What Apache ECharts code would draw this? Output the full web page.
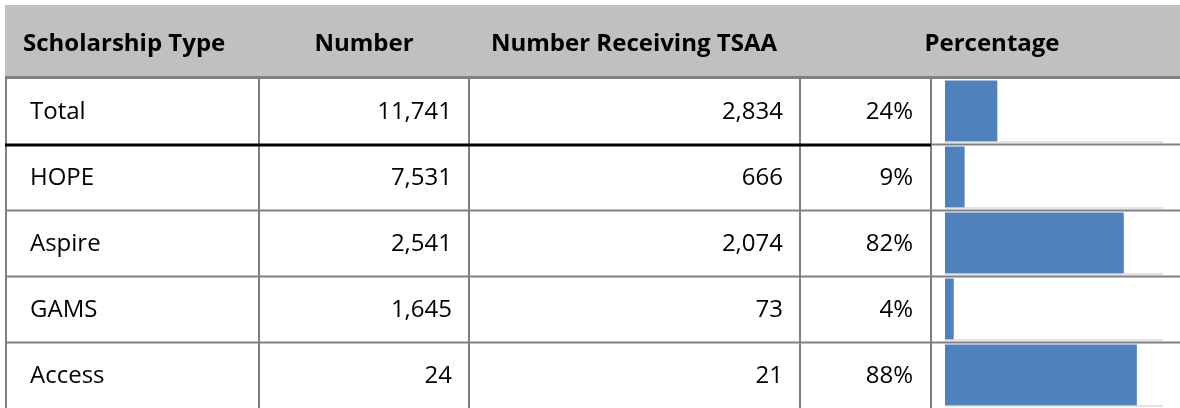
<!DOCTYPE html>
<html>
<head>
<meta charset="utf-8">
<script src="https://cdn.jsdelivr.net/npm/echarts@6/dist/echarts.min.js"></script>
<style>
  html, body { margin: 0; padding: 0; background: #fff; }
  #main { width: 1180px; height: 408px; }
</style>
</head>
<body>
<div id="main"></div>
<script>
// table data
const headers = ['Scholarship Type', 'Number', 'Number Receiving TSAA', 'Percentage']
const types = ['Total', 'HOPE', 'Aspire', 'GAMS', 'Access']
const numbers = [11741, 7531, 2541, 1645, 24]
const receiving = [2834, 666, 2074, 73, 21]
const percents = [24, 9, 82, 4, 88]

const FONT = '"Open Sans", "Noto Sans", sans-serif'
const BORDER = '#808080'
const ROW_H = 67

const chart = echarts.init(document.getElementById('main'), null, { renderer: 'canvas' })

chart.setOption({
  animation: false,
  grid: { left: 945, right: 17, top: 78, bottom: -5 },
  xAxis: { type: 'value', min: 0, max: 100, show: false },
  yAxis: { type: 'category', data: types, inverse: true, show: false },
  series: [
    {
      type: 'bar',
      data: percents,
      barWidth: 61,
      itemStyle: { color: '#4f81bd' },
      z: 3
    }
  ]
})

const fmt = v => v.toLocaleString('en-US')
const line = (x, y, w, h, color) => ({
  type: 'rect', shape: { x: x, y: y, width: w, height: h },
  style: { fill: color }, silent: true, z: 10
})
const txt = (str, x, y, align, bold) => ({
  type: 'text', x: x, y: y, z: 20, silent: true,
  style: {
    text: str, align: align, verticalAlign: 'middle',
    font: (bold ? 'bold 24px ' : '24px ') + FONT, fill: '#000'
  }
})

const els = []
// header band
els.push(line(5, 5, 1175, 71, '#c0c0c0'))
els.push(line(5, 76, 1175, 3, BORDER))
els.push(txt(headers[0], 23, 44, 'left', true))
els.push(txt(headers[1], 364, 44, 'center', true))
els.push(txt(headers[2], 634, 44, 'center', true))
els.push(txt(headers[3], 992, 44, 'center', true))

// vertical borders
;[5, 258, 468, 799, 930].forEach(x => {
  els.push(line(x, 78, 2, 330, BORDER))
})

// rows
types.forEach((t, i) => {
  const cy = chart.convertToPixel({ yAxisIndex: 0 }, t)
  const b = cy + ROW_H / 2
  const ty = cy + 1.5
  els.push(txt(t, 30, ty, 'left'))
  els.push(txt(fmt(numbers[i]), 452, ty, 'right'))
  els.push(txt(fmt(receiving[i]), 783, ty, 'right'))
  els.push(txt(percents[i] + '%', 913, ty, 'right'))
  // thin baseline under each data bar
  const x0 = chart.convertToPixel({ xAxisIndex: 0 }, 0)
  const x1 = chart.convertToPixel({ xAxisIndex: 0 }, 100)
  els.push(line(x0, b - 3, x1 - x0, 1, '#c8c8c8'))
  if (i === 0) {
    els.push(line(5, b - 1, 926, 3, '#000'))
    els.push(line(931, b - 1, 249, 2, BORDER))
  } else if (i < types.length - 1) {
    els.push(line(5, b - 1, 1175, 2, BORDER))
  }
})

chart.setOption({ graphic: { elements: els } })
</script>
</body>
</html>
